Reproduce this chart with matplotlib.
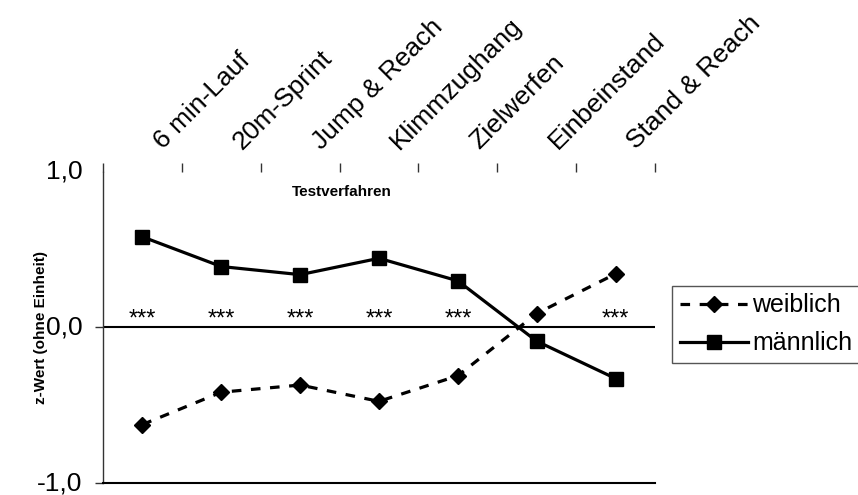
import matplotlib
matplotlib.use("Agg")
import matplotlib.pyplot as plt

plt.rcParams['font.family'] = ['Liberation Sans', 'DejaVu Sans']

categories = ["6 min-Lauf", "20m-Sprint", "Jump & Reach", "Klimmzughang",
              "Zielwerfen", "Einbeinstand", "Stand & Reach"]
weiblich = [-0.624, -0.416, -0.37, -0.475, -0.31, 0.09, 0.345]
maennlich = [0.583, 0.392, 0.34, 0.445, 0.30, -0.088, -0.328]
signif = ["***", "***", "***", "***", "***", "", "***"]
yticks = [-1.0, 0.0, 1.0]
ytick_labels = ["-1,0", "0,0", "1,0"]

fig = plt.figure(figsize=(8.58, 4.95), dpi=100)
ax = fig.add_axes([103/858, 1-483/495, (655-103)/858, (483-172)/495])

x = list(range(len(categories)))
ax.plot(x, weiblich, color='black', lw=2.3, ls=(0, (3, 3)), marker='D', ms=8,
        label='weiblich', zorder=3)
ax.plot(x, maennlich, color='black', lw=2.3, ls='-', marker='s', ms=9.5,
        label='männlich', zorder=3)

ax.axhline(0, color='black', lw=1.5, zorder=2)

ax.set_xlim(-0.5, len(categories) - 0.5)
ax.set_ylim(-1.0, 1.0)

# spines
ax.spines['top'].set_visible(False)
ax.spines['right'].set_visible(False)
ax.spines['left'].set_color('#333333')
ax.spines['left'].set_linewidth(1.0)
ax.spines['bottom'].set_color('black')
ax.spines['bottom'].set_linewidth(1.5)

# y ticks
ax.set_yticks(yticks)
ax.set_yticklabels(ytick_labels, fontsize=19, va='center')
ax.tick_params(axis='y', direction='out', length=5.8, width=1, color='#333333', pad=9)
ax.yaxis.get_major_ticks()[-1].tick1line.set_visible(False)

# x ticks at category boundaries, on top
ax.xaxis.tick_top()
bounds = [i - 0.5 for i in range(len(categories) + 1)]
ax.set_xticks(bounds)
ax.set_xticklabels([])
ax.tick_params(axis='x', direction='out', length=6.5, width=1, color='#333333')

# rotated category labels
for i, c in enumerate(categories):
    ax.annotate(c, xy=(i, 1.0), xycoords='data', xytext=(15, 15.5),
                textcoords='offset points', rotation=45, rotation_mode='anchor',
                ha='left', va='baseline', fontsize=19)

# significance stars
for i, s in enumerate(signif):
    if s:
        ax.text(i, 0.015, s, ha='center', va='baseline', fontsize=17)

ax.set_xlabel("Testverfahren", fontsize=11, fontweight='bold', va='center')
ax.xaxis.set_label_coords(0.433, 0.936)
ax.set_ylabel("z-Wert (ohne Einheit)", fontsize=11, fontweight='bold', va='center')
ax.yaxis.set_label_coords(-0.1123, 0.5)

leg = fig.legend(loc='upper left', bbox_to_anchor=(672/858, 1-286/495),
                 fontsize=18, handlelength=2.75, handletextpad=0.15,
                 labelspacing=0.55, borderpad=0.3, borderaxespad=0,
                 fancybox=False, framealpha=1, edgecolor='#555555')
leg.get_frame().set_linewidth(1.0)

fig.savefig("out.png", dpi=100)
